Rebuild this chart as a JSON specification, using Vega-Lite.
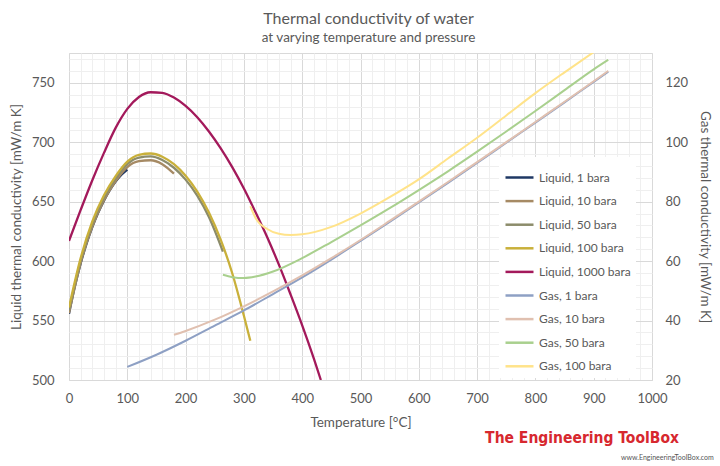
{
  "$schema": "https://vega.github.io/schema/vega-lite/v6.json",
  "width": 583,
  "height": 327,
  "autosize": {"type": "none"},
  "padding": {"left": 69, "top": 53, "right": 68, "bottom": 86},
  "title": {
    "text": "Thermal conductivity of water",
    "subtitle": "at varying temperature and pressure",
    "font": "Lato",
    "subtitleFont": "Lato",
    "fontSize": 16,
    "subtitleFontSize": 13.5,
    "fontWeight": "normal",
    "color": "#595959",
    "subtitleColor": "#595959",
    "anchor": "middle",
    "dx": 8,
    "offset": 8,
    "subtitlePadding": 4
  },
  "config": {
    "font": "Lato",
    "view": {"stroke": "#D9D9D9"},
    "axis": {
      "labelColor": "#595959",
      "labelFontSize": 13,
      "titleColor": "#595959",
      "titleFontSize": 13.5,
      "titleFontWeight": "normal",
      "ticks": false,
      "domain": false,
      "labelFlush": false
    }
  },
  "data": {
    "values": [
      {"series": "Liquid, 1 bara", "temp": 0, "k": 555.8},
      {"series": "Liquid, 1 bara", "temp": 10, "k": 578.6},
      {"series": "Liquid, 1 bara", "temp": 20, "k": 598.0},
      {"series": "Liquid, 1 bara", "temp": 30, "k": 614.5},
      {"series": "Liquid, 1 bara", "temp": 40, "k": 628.6},
      {"series": "Liquid, 1 bara", "temp": 50, "k": 640.6},
      {"series": "Liquid, 1 bara", "temp": 60, "k": 650.8},
      {"series": "Liquid, 1 bara", "temp": 70, "k": 659.6},
      {"series": "Liquid, 1 bara", "temp": 80, "k": 666.8},
      {"series": "Liquid, 1 bara", "temp": 90, "k": 672.6},
      {"series": "Liquid, 1 bara", "temp": 100, "k": 677.0},
      {"series": "Liquid, 10 bara", "temp": 0, "k": 556.3},
      {"series": "Liquid, 10 bara", "temp": 20, "k": 598.5},
      {"series": "Liquid, 10 bara", "temp": 40, "k": 629.0},
      {"series": "Liquid, 10 bara", "temp": 60, "k": 651.2},
      {"series": "Liquid, 10 bara", "temp": 80, "k": 667.2},
      {"series": "Liquid, 10 bara", "temp": 100, "k": 679.0},
      {"series": "Liquid, 10 bara", "temp": 120, "k": 684.0},
      {"series": "Liquid, 10 bara", "temp": 140, "k": 684.8},
      {"series": "Liquid, 10 bara", "temp": 160, "k": 681.5},
      {"series": "Liquid, 10 bara", "temp": 180, "k": 673.5},
      {"series": "Liquid, 50 bara", "temp": 0, "k": 558.5},
      {"series": "Liquid, 50 bara", "temp": 20, "k": 600.4},
      {"series": "Liquid, 50 bara", "temp": 40, "k": 631.0},
      {"series": "Liquid, 50 bara", "temp": 60, "k": 653.0},
      {"series": "Liquid, 50 bara", "temp": 80, "k": 669.3},
      {"series": "Liquid, 50 bara", "temp": 100, "k": 681.5},
      {"series": "Liquid, 50 bara", "temp": 120, "k": 687.0},
      {"series": "Liquid, 50 bara", "temp": 140, "k": 688.0},
      {"series": "Liquid, 50 bara", "temp": 160, "k": 685.0},
      {"series": "Liquid, 50 bara", "temp": 180, "k": 678.5},
      {"series": "Liquid, 50 bara", "temp": 200, "k": 668.5},
      {"series": "Liquid, 50 bara", "temp": 220, "k": 655.0},
      {"series": "Liquid, 50 bara", "temp": 240, "k": 637.0},
      {"series": "Liquid, 50 bara", "temp": 264, "k": 608.0},
      {"series": "Liquid, 100 bara", "temp": 0, "k": 561.0},
      {"series": "Liquid, 100 bara", "temp": 20, "k": 602.5},
      {"series": "Liquid, 100 bara", "temp": 40, "k": 633.3},
      {"series": "Liquid, 100 bara", "temp": 60, "k": 655.3},
      {"series": "Liquid, 100 bara", "temp": 80, "k": 671.5},
      {"series": "Liquid, 100 bara", "temp": 100, "k": 683.7},
      {"series": "Liquid, 100 bara", "temp": 120, "k": 689.4},
      {"series": "Liquid, 100 bara", "temp": 140, "k": 690.5},
      {"series": "Liquid, 100 bara", "temp": 160, "k": 687.8},
      {"series": "Liquid, 100 bara", "temp": 180, "k": 681.5},
      {"series": "Liquid, 100 bara", "temp": 200, "k": 671.8},
      {"series": "Liquid, 100 bara", "temp": 220, "k": 658.4},
      {"series": "Liquid, 100 bara", "temp": 240, "k": 640.8},
      {"series": "Liquid, 100 bara", "temp": 260, "k": 618.2},
      {"series": "Liquid, 100 bara", "temp": 280, "k": 589.8},
      {"series": "Liquid, 100 bara", "temp": 300, "k": 554.0},
      {"series": "Liquid, 100 bara", "temp": 311, "k": 533.0},
      {"series": "Liquid, 1000 bara", "temp": 0, "k": 617},
      {"series": "Liquid, 1000 bara", "temp": 20, "k": 643},
      {"series": "Liquid, 1000 bara", "temp": 40, "k": 668},
      {"series": "Liquid, 1000 bara", "temp": 60, "k": 691},
      {"series": "Liquid, 1000 bara", "temp": 80, "k": 712},
      {"series": "Liquid, 1000 bara", "temp": 100, "k": 728},
      {"series": "Liquid, 1000 bara", "temp": 120, "k": 738},
      {"series": "Liquid, 1000 bara", "temp": 140, "k": 742},
      {"series": "Liquid, 1000 bara", "temp": 160, "k": 741.5},
      {"series": "Liquid, 1000 bara", "temp": 180, "k": 737.5},
      {"series": "Liquid, 1000 bara", "temp": 200, "k": 730.5},
      {"series": "Liquid, 1000 bara", "temp": 220, "k": 721},
      {"series": "Liquid, 1000 bara", "temp": 240, "k": 709},
      {"series": "Liquid, 1000 bara", "temp": 260, "k": 695},
      {"series": "Liquid, 1000 bara", "temp": 280, "k": 679},
      {"series": "Liquid, 1000 bara", "temp": 300, "k": 661},
      {"series": "Liquid, 1000 bara", "temp": 320, "k": 641},
      {"series": "Liquid, 1000 bara", "temp": 340, "k": 620},
      {"series": "Liquid, 1000 bara", "temp": 360, "k": 597},
      {"series": "Liquid, 1000 bara", "temp": 380, "k": 572},
      {"series": "Liquid, 1000 bara", "temp": 400, "k": 546},
      {"series": "Liquid, 1000 bara", "temp": 420, "k": 518},
      {"series": "Liquid, 1000 bara", "temp": 432, "k": 500},
      {"series": "Gas, 1 bara", "temp": 100, "k": 24.4},
      {"series": "Gas, 1 bara", "temp": 150, "k": 28.5},
      {"series": "Gas, 1 bara", "temp": 200, "k": 33.2},
      {"series": "Gas, 1 bara", "temp": 250, "k": 38.3},
      {"series": "Gas, 1 bara", "temp": 300, "k": 43.4},
      {"series": "Gas, 1 bara", "temp": 350, "k": 48.9},
      {"series": "Gas, 1 bara", "temp": 400, "k": 54.5},
      {"series": "Gas, 1 bara", "temp": 450, "k": 60.5},
      {"series": "Gas, 1 bara", "temp": 500, "k": 66.8},
      {"series": "Gas, 1 bara", "temp": 550, "k": 73.2},
      {"series": "Gas, 1 bara", "temp": 600, "k": 79.7},
      {"series": "Gas, 1 bara", "temp": 650, "k": 86.3},
      {"series": "Gas, 1 bara", "temp": 700, "k": 93.0},
      {"series": "Gas, 1 bara", "temp": 750, "k": 99.8},
      {"series": "Gas, 1 bara", "temp": 800, "k": 106.6},
      {"series": "Gas, 1 bara", "temp": 850, "k": 113.4},
      {"series": "Gas, 1 bara", "temp": 900, "k": 120.3},
      {"series": "Gas, 1 bara", "temp": 925, "k": 123.7},
      {"series": "Gas, 10 bara", "temp": 180, "k": 35.2},
      {"series": "Gas, 10 bara", "temp": 200, "k": 36.5},
      {"series": "Gas, 10 bara", "temp": 250, "k": 40.3},
      {"series": "Gas, 10 bara", "temp": 300, "k": 44.8},
      {"series": "Gas, 10 bara", "temp": 350, "k": 49.8},
      {"series": "Gas, 10 bara", "temp": 400, "k": 55.2},
      {"series": "Gas, 10 bara", "temp": 450, "k": 61.0},
      {"series": "Gas, 10 bara", "temp": 500, "k": 67.1},
      {"series": "Gas, 10 bara", "temp": 550, "k": 73.5},
      {"series": "Gas, 10 bara", "temp": 600, "k": 80.0},
      {"series": "Gas, 10 bara", "temp": 650, "k": 86.6},
      {"series": "Gas, 10 bara", "temp": 700, "k": 93.3},
      {"series": "Gas, 10 bara", "temp": 750, "k": 100.0},
      {"series": "Gas, 10 bara", "temp": 800, "k": 106.8},
      {"series": "Gas, 10 bara", "temp": 850, "k": 113.6},
      {"series": "Gas, 10 bara", "temp": 900, "k": 120.5},
      {"series": "Gas, 10 bara", "temp": 925, "k": 124.0},
      {"series": "Gas, 50 bara", "temp": 264, "k": 55.4},
      {"series": "Gas, 50 bara", "temp": 280, "k": 54.6},
      {"series": "Gas, 50 bara", "temp": 300, "k": 54.3},
      {"series": "Gas, 50 bara", "temp": 320, "k": 54.8},
      {"series": "Gas, 50 bara", "temp": 350, "k": 56.5},
      {"series": "Gas, 50 bara", "temp": 400, "k": 61.0},
      {"series": "Gas, 50 bara", "temp": 450, "k": 66.4},
      {"series": "Gas, 50 bara", "temp": 500, "k": 72.0},
      {"series": "Gas, 50 bara", "temp": 550, "k": 77.8},
      {"series": "Gas, 50 bara", "temp": 600, "k": 83.9},
      {"series": "Gas, 50 bara", "temp": 650, "k": 90.2},
      {"series": "Gas, 50 bara", "temp": 700, "k": 96.8},
      {"series": "Gas, 50 bara", "temp": 750, "k": 103.6},
      {"series": "Gas, 50 bara", "temp": 800, "k": 110.5},
      {"series": "Gas, 50 bara", "temp": 850, "k": 117.5},
      {"series": "Gas, 50 bara", "temp": 900, "k": 124.5},
      {"series": "Gas, 50 bara", "temp": 925, "k": 127.7},
      {"series": "Gas, 100 bara", "temp": 311, "k": 78.5},
      {"series": "Gas, 100 bara", "temp": 320, "k": 74.5},
      {"series": "Gas, 100 bara", "temp": 340, "k": 70.8},
      {"series": "Gas, 100 bara", "temp": 360, "k": 69.2},
      {"series": "Gas, 100 bara", "temp": 380, "k": 68.8},
      {"series": "Gas, 100 bara", "temp": 400, "k": 69.0},
      {"series": "Gas, 100 bara", "temp": 450, "k": 71.5},
      {"series": "Gas, 100 bara", "temp": 500, "k": 76.0},
      {"series": "Gas, 100 bara", "temp": 550, "k": 81.5},
      {"series": "Gas, 100 bara", "temp": 600, "k": 87.5},
      {"series": "Gas, 100 bara", "temp": 650, "k": 94.5},
      {"series": "Gas, 100 bara", "temp": 700, "k": 101.5},
      {"series": "Gas, 100 bara", "temp": 750, "k": 109.0},
      {"series": "Gas, 100 bara", "temp": 800, "k": 116.5},
      {"series": "Gas, 100 bara", "temp": 850, "k": 123.5},
      {"series": "Gas, 100 bara", "temp": 900, "k": 130.3}
    ]
  },
  "layer": [
    {
      "transform": [{"filter": "indexof(datum.series, 'Liquid') === 0"}],
      "mark": {"type": "line", "strokeWidth": 2.3, "interpolate": "monotone", "clip": true, "zindex": 1},
      "encoding": {
        "x": {
          "field": "temp",
          "type": "quantitative",
          "scale": {"domain": [0, 1000], "nice": false},
          "axis": {
            "values": [0, 20, 40, 60, 80, 100, 120, 140, 160, 180, 200, 220, 240, 260, 280, 300, 320, 340, 360, 380, 400, 420, 440, 460, 480, 500, 520, 540, 560, 580, 600, 620, 640, 660, 680, 700, 720, 740, 760, 780, 800, 820, 840, 860, 880, 900, 920, 940, 960, 980, 1000],
            "tickCount": 51,
            "labelExpr": "datum.value % 100 === 0 ? '' + datum.value : ''",
            "labelOverlap": false,
            "grid": true,
            "gridColor": {"condition": {"test": "datum.value % 100 === 0", "value": "#D9D9D9"}, "value": "#EFEFEF"},
            "labelPadding": 12,
            "title": "Temperature  [°C]",
            "titlePadding": 10
          }
        },
        "y": {
          "field": "k",
          "type": "quantitative",
          "scale": {"domain": [500, 775], "nice": false, "zero": false},
          "axis": {
            "orient": "left",
            "values": [500, 510, 520, 530, 540, 550, 560, 570, 580, 590, 600, 610, 620, 630, 640, 650, 660, 670, 680, 690, 700, 710, 720, 730, 740, 750, 760, 770],
            "tickCount": 28,
            "labelExpr": "datum.value % 50 === 0 ? datum.label : ''",
            "labelOverlap": false,
            "grid": true,
            "gridColor": {"condition": {"test": "datum.value % 50 === 0", "value": "#D9D9D9"}, "value": "#EFEFEF"},
            "labelPadding": 15,
            "title": "Liquid thermal conductivity  [mW/m K]",
            "titlePadding": 8
          }
        },
        "color": {
          "field": "series",
          "type": "nominal",
          "scale": {
            "domain": ["Liquid, 1 bara", "Liquid, 10 bara", "Liquid, 50 bara", "Liquid, 100 bara", "Liquid, 1000 bara", "Gas, 1 bara", "Gas, 10 bara", "Gas, 50 bara", "Gas, 100 bara"],
            "range": ["#1F3864", "#A68A64", "#8C8C6B", "#C9B03A", "#A3195B", "#8EA0C4", "#E0C0B0", "#A9D08E", "#FFE38A"]
          },
          "legend": {
            "orient": "none",
            "legendX": 430,
            "legendY": 104,
            "title": null,
            "symbolType": "stroke",
            "symbolSize": 784,
            "symbolStrokeWidth": 2.5,
            "labelFontSize": 12,
            "labelColor": "#595959",
            "labelOffset": 4,
            "fillColor": "white",
            "padding": 5,
            "rowPadding": 1.6
          }
        }
      }
    },
    {
      "transform": [{"filter": "indexof(datum.series, 'Gas') === 0"}],
      "mark": {"type": "line", "strokeWidth": 2, "interpolate": "monotone", "clip": true},
      "encoding": {
        "x": {"field": "temp", "type": "quantitative", "scale": {"domain": [0, 1000], "nice": false}},
        "y": {
          "field": "k",
          "type": "quantitative",
          "scale": {"domain": [20, 130], "nice": false, "zero": false},
          "axis": {
            "orient": "right",
            "values": [20, 40, 60, 80, 100, 120],
            "grid": false,
            "labelPadding": 13,
            "title": "Gas thermal conductivity [mW/m K]",
            "titlePadding": 10
          }
        },
        "color": {"field": "series", "type": "nominal"}
      }
    },
    {
      "data": {"values": [{}]},
      "mark": {"type": "text", "text": "The Engineering ToolBox", "font": "DejaVu Sans Condensed", "fontWeight": "bold", "fontSize": 15.5, "color": "#D7282F", "align": "center", "baseline": "middle"},
      "encoding": {
        "x": {"datum": 880, "type": "quantitative"},
        "y": {"datum": 451, "type": "quantitative", "scale": {"domain": [500, 775], "nice": false, "zero": false}, "axis": null}
      }
    },
    {
      "data": {"values": [{}]},
      "mark": {"type": "text", "text": "www.EngineeringToolBox.com", "fontSize": 7, "color": "#555555", "align": "right", "baseline": "middle"},
      "encoding": {
        "x": {"datum": 1106, "type": "quantitative"},
        "y": {"datum": 434, "type": "quantitative", "scale": {"domain": [500, 775], "nice": false, "zero": false}, "axis": null}
      }
    }
  ],
  "resolve": {"scale": {"y": "independent"}}
}
